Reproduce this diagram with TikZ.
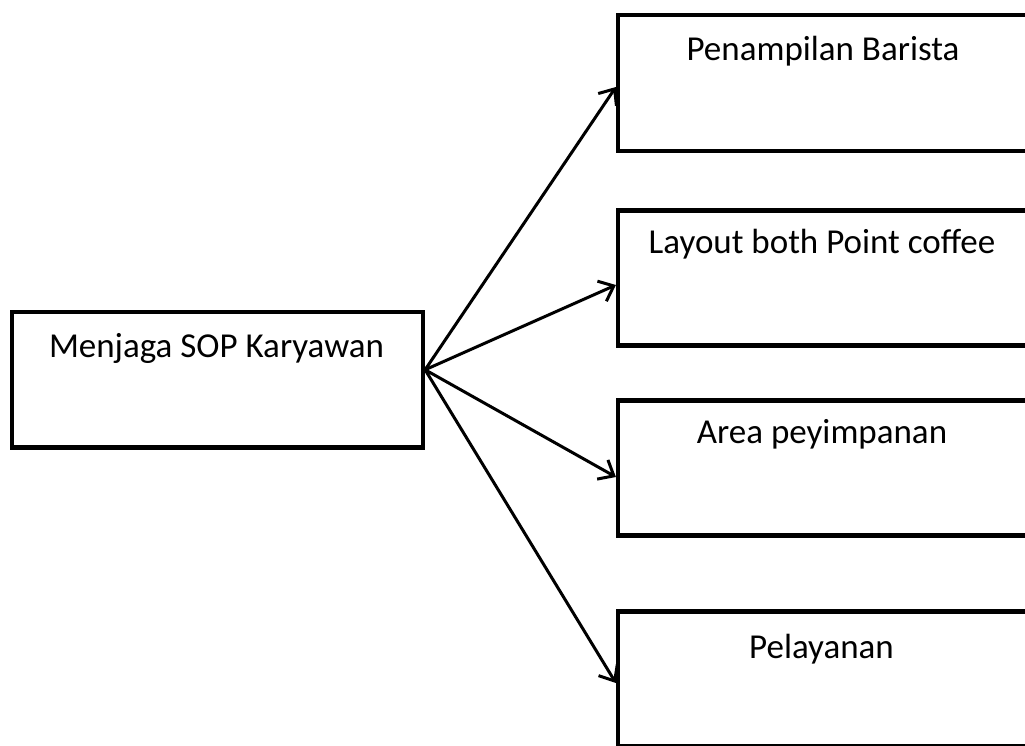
\documentclass[tikz,border=0pt]{standalone}
\usepackage{fontspec}
\setmainfont{Carlito}
\usetikzlibrary{arrows.meta}
\begin{document}
\begin{tikzpicture}[x=1pt,y=-1pt,
  box/.style={draw=black, line width=4.2pt, rectangle, inner sep=0pt},
  lbl/.style={anchor=base, font=\fontsize{35}{42}\selectfont, text=black, inner sep=0pt},
  arr/.style={draw=black, line width=3pt, -{Straight Barb[length=13pt,width=22pt]}}]
\useasboundingbox (0,0) rectangle (1025,745);
\clip (0,0) rectangle (1025,745);
\node[box, minimum width=411pt, minimum height=135.5pt] (a) at (217.5,379.75) {};
\node[box, minimum width=409pt, minimum height=136pt] (b1) at (822.5,83) {};
\node[box, minimum width=409pt, minimum height=135pt] (b2) at (822.5,278) {};
\node[box, minimum width=409pt, minimum height=135pt] (b3) at (822.5,468) {};
\node[box, minimum width=409pt, minimum height=135pt] (b4) at (822.5,679) {};
\node[lbl] (ta) at (216.5,357) {Menjaga SOP Karyawan};
\node[lbl] (t1) at (823,60) {Penampilan Barista};
\node[lbl] (t2) at (822,253) {Layout both Point coffee};
\node[lbl] (t3) at (822,443) {Area peyimpanan};
\node[lbl] (t4) at (821.5,658) {Pelayanan};
\coordinate (o) at ([yshift=10pt]a.east);
\draw[arr] (o) -- ([yshift=-4pt]b1.west);
\draw[arr] (o) -- ([yshift=-7pt]b2.west);
\draw[arr] (o) -- ([yshift=-9pt]b3.west);
\draw[arr] (o) -- ([yshift=-4pt]b4.west);
\end{tikzpicture}
\end{document}
